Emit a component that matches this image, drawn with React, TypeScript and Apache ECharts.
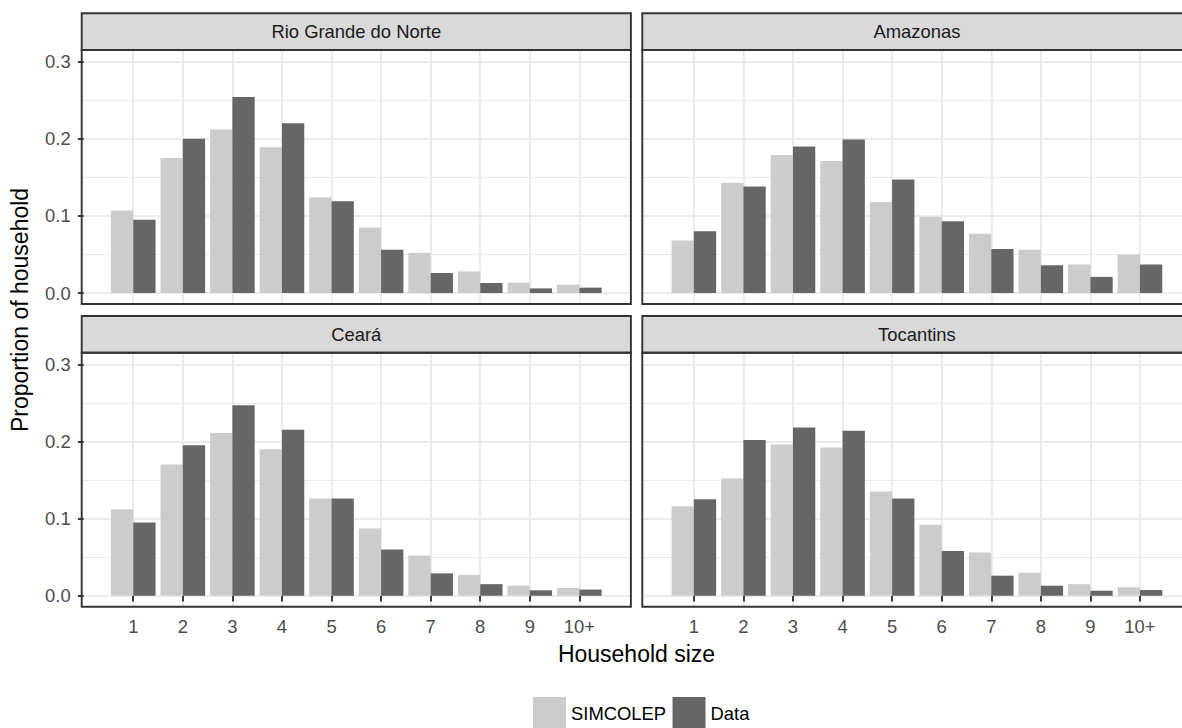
import React, { useEffect, useRef } from "react";
import * as echarts from "echarts";

// ---- data ----
const categories = ["1", "2", "3", "4", "5", "6", "7", "8", "9", "10+"];
const xTickValues = [1, 2, 3, 4, 5, 6, 7, 8, 9, 10];
const facetNames = ["Rio Grande do Norte", "Amazonas", "Ceará", "Tocantins"];
const seriesNames = ["SIMCOLEP", "Data"];

const simRioGrandeDoNorte = [0.107, 0.175, 0.212, 0.189, 0.124, 0.085, 0.052, 0.028, 0.0135, 0.011];
const dataRioGrandeDoNorte = [0.095, 0.2, 0.254, 0.22, 0.119, 0.056, 0.026, 0.013, 0.006, 0.007];
const simAmazonas = [0.068, 0.143, 0.179, 0.171, 0.118, 0.099, 0.077, 0.056, 0.037, 0.05];
const dataAmazonas = [0.08, 0.138, 0.19, 0.199, 0.147, 0.093, 0.057, 0.036, 0.021, 0.037];
const simCeara = [0.112, 0.17, 0.211, 0.19, 0.126, 0.087, 0.052, 0.027, 0.013, 0.01];
const dataCeara = [0.095, 0.195, 0.247, 0.215, 0.126, 0.06, 0.029, 0.015, 0.007, 0.008];
const simTocantins = [0.116, 0.152, 0.196, 0.192, 0.135, 0.092, 0.056, 0.03, 0.015, 0.011];
const dataTocantins = [0.125, 0.202, 0.218, 0.214, 0.126, 0.058, 0.026, 0.013, 0.0065, 0.0074];

const yMajorTicks = [0, 0.1, 0.2, 0.3];
const yMinorTicks = [0.05, 0.15, 0.25];

const simByFacet = [simRioGrandeDoNorte, simAmazonas, simCeara, simTocantins];
const dataByFacet = [dataRioGrandeDoNorte, dataAmazonas, dataCeara, dataTocantins];

// ---- layout ----
const FONT = "'Liberation Sans', Arial, Helvetica, sans-serif";
const panelW = 549.2;
const panelH = 254;
const stripH = 36.7;
const panelLeft = [81.7, 642.3, 81.7, 642.3];
const panelTop = [50, 50, 352.7, 352.7];
const X_MIN = -0.04;
const X_MAX = 11.04;
const Y_MIN = -0.0142;
const Y_MAX = 0.315;
const tickFont = 18.4;
const titleFont = 23;
const lineW = 1.9;
const gridColor = "#ebebeb";
const darkLine = "#333333";

export default function App() {
  const ref = useRef<HTMLDivElement>(null);

  useEffect(() => {
    if (!ref.current) return;
    const chart = echarts.init(ref.current, undefined, { renderer: "svg" });

    const grids: any[] = [];
    const xAxes: any[] = [];
    const yAxes: any[] = [];
    const series: any[] = [];
    const graphics: any[] = [];

    facetNames.forEach((name, i) => {
      const isBottom = i >= 2;
      const isLeft = i % 2 === 0;
      grids.push({
        left: panelLeft[i],
        top: panelTop[i],
        width: panelW,
        height: panelH,
        containLabel: false,
        outerBoundsMode: "none",
        show: false,
      });
      xAxes.push({
        type: "value",
        gridIndex: i,
        min: X_MIN,
        max: X_MAX,
        axisLine: { show: false },
        axisTick: {
          show: isBottom,
          inside: false,
          length: 5.75,
          customValues: xTickValues,
          lineStyle: { color: darkLine, width: lineW },
        },
        axisLabel: {
          show: isBottom,
          customValues: xTickValues,
          margin: 10.7,
          fontSize: tickFont,
          fontFamily: FONT,
          color: "#4d4d4d",
          formatter: (v: number) => categories[Math.round(v) - 1] ?? "",
        },
        splitLine: { show: true, lineStyle: { color: gridColor, width: lineW } },
        minorSplitLine: { show: false },
      });
      yAxes.push({
        type: "value",
        gridIndex: i,
        position: "left",
        min: Y_MIN,
        max: Y_MAX,
        axisLine: { show: false },
        axisTick: {
          show: isLeft,
          inside: false,
          length: 5.75,
          customValues: yMajorTicks,
          lineStyle: { color: darkLine, width: lineW },
        },
        axisLabel: {
          show: isLeft,
          customValues: yMajorTicks,
          margin: 11,
          fontSize: tickFont,
          fontFamily: FONT,
          color: "#4d4d4d",
          formatter: (v: number) => v.toFixed(1),
        },
        splitLine: { show: true, lineStyle: { color: gridColor, width: lineW } },
      });
      yAxes.push({
        type: "value",
        gridIndex: i,
        position: "right",
        min: Y_MIN,
        max: Y_MAX,
        axisLine: { show: false },
        axisTick: { show: false, customValues: yMinorTicks },
        axisLabel: { show: false, customValues: yMinorTicks },
        splitLine: { show: true, lineStyle: { color: gridColor, width: 1.1 } },
      });

      const sim = simByFacet[i];
      const dat = dataByFacet[i];
      series.push({
        name: seriesNames[0],
        type: "bar",
        xAxisIndex: i,
        yAxisIndex: 2 * i,
        barWidth: 0.45 * 49.56,
        barGap: "0%",
        itemStyle: { color: "#cccccc" },
        data: sim.map((v, k) => [xTickValues[k], v]),
      });
      series.push({
        name: seriesNames[1],
        type: "bar",
        xAxisIndex: i,
        yAxisIndex: 2 * i,
        barWidth: 0.45 * 49.56,
        barGap: "0%",
        itemStyle: { color: "#666666" },
        data: dat.map((v, k) => [xTickValues[k], v]),
      });

      // strip
      graphics.push({
        type: "rect",
        silent: true,
        z: 50,
        shape: { x: panelLeft[i], y: panelTop[i] - stripH, width: panelW, height: stripH },
        style: { fill: "#d9d9d9", stroke: darkLine, lineWidth: lineW },
      });
      graphics.push({
        type: "text",
        silent: true,
        z: 51,
        x: panelLeft[i] + panelW / 2,
        y: panelTop[i] - stripH / 2,
        style: {
          text: name,
          fontSize: tickFont,
          fontFamily: FONT,
          fill: "#1a1a1a",
          align: "center",
          verticalAlign: "middle",
        },
      });
      // frame
      graphics.push({
        type: "rect",
        silent: true,
        z: 50,
        shape: { x: panelLeft[i], y: panelTop[i], width: panelW, height: panelH },
        style: { fill: "none", stroke: darkLine, lineWidth: lineW },
      });
    });

    graphics.push({
      type: "text",
      silent: true,
      z: 51,
      x: 636.5,
      y: 653.5,
      style: {
        text: "Household size",
        fontSize: titleFont,
        fontFamily: FONT,
        fill: "#000000",
        align: "center",
        verticalAlign: "middle",
      },
    });
    graphics.push({
      type: "text",
      silent: true,
      z: 51,
      x: 20.3,
      y: 310,
      rotation: Math.PI / 2,
      style: {
        text: "Proportion of household",
        fontSize: titleFont,
        fontFamily: FONT,
        fill: "#000000",
        align: "center",
        verticalAlign: "middle",
      },
    });

    chart.setOption({
      animation: false,
      backgroundColor: "#ffffff",
      textStyle: { fontFamily: FONT },
      grid: grids,
      xAxis: xAxes,
      yAxis: yAxes,
      series,
      legend: {
        data: seriesNames,
        icon: "rect",
        orient: "horizontal",
        left: 533,
        top: 697,
        padding: 0,
        itemWidth: 33,
        itemHeight: 33,
        itemGap: 6.5,
        selectedMode: false,
        textStyle: { fontSize: tickFont, fontFamily: FONT, color: "#000000" },
      },
      graphic: graphics,
    });

    return () => chart.dispose();
  }, []);

  return (
    <div
      ref={ref}
      style={{ position: "fixed", left: 0, top: 0, width: 1182, height: 728 }}
    />
  );
}
